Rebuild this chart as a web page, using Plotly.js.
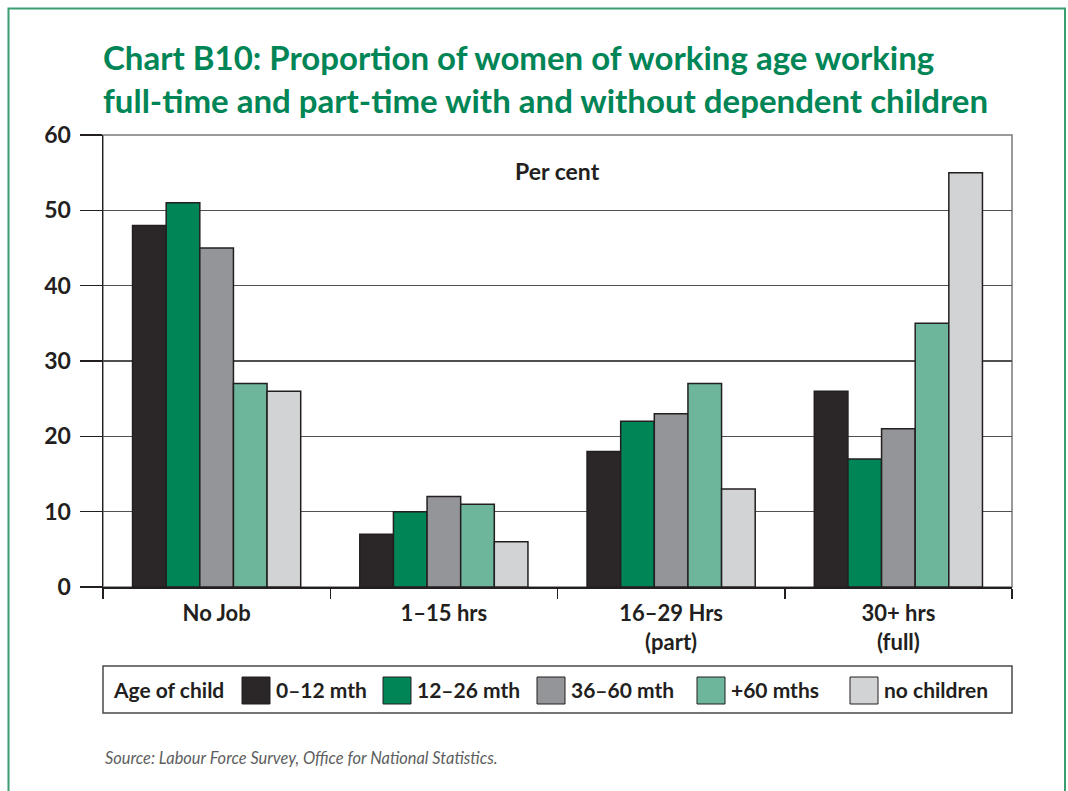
<!DOCTYPE html>
<html><head><meta charset="utf-8">
<script src="https://cdn.plot.ly/plotly-3.0.1.min.js"></script>
<style>body{margin:0;background:#fff}#chart{width:1068px;height:791px}</style>
</head><body><div id="chart"></div>
<script>
// ---- data ----
const categories = ["No Job", "1–15 hrs", "16–29 Hrs<br>(part)", "30+ hrs<br>(full)"];
const seriesNames = ["0–12 mth", "12–26 mth", "36–60 mth", "+60 mths", "no children"];
const months0to12 = [48, 7, 18, 26];
const months12to26 = [51, 10, 22, 17];
const months36to60 = [45, 12, 23, 21];
const months60plus = [27, 11, 27, 35];
const noChildren = [26, 6, 13, 55];
const yTickValues = [0, 10, 20, 30, 40, 50, 60];
const legendHeading = "Age of child";
const unitLabel = "Per cent";
const sourceText = "Source: Labour Force Survey, Office for National Statistics.";
const titleText = "Chart B10: Proportion of women of working age working<br>full-time and part-time with and without dependent children";

// ---- styles ----
const seriesColors = ["#2b2728", "#008556", "#939598", "#6db69b", "#d1d3d4"];
const ink = "#231f20";
const FONT = "Lato, 'Open Sans', sans-serif";

const W = 1068, H = 791;
const L = 103, R = 1012, T = 135, B = 587;
const px = x => (x - L) / (R - L);
const py = y => (B - y) / (B - T);

const seriesValues = [months0to12, months12to26, months36to60, months60plus, noChildren];
const traces = seriesValues.map((vals, i) => ({
  type: "bar",
  name: seriesNames[i],
  x: categories,
  y: vals,
  marker: {color: seriesColors[i], line: {color: ink, width: 1.5}},
  showlegend: false,
  hoverinfo: "y"
}));

// custom legend
const swatchLeft = [242, 383, 537, 697, 850];
const swatchW = 28;
const legTop = 666, legBot = 713, legMid = (legTop + legBot) / 2;
const shapes = [
  // green frame
  {type: "rect", xref: "paper", yref: "paper", x0: px(8.5), x1: px(1065), y0: py(1000), y1: py(8.5),
   line: {color: "#3a9e70", width: 2}, fillcolor: "rgba(0,0,0,0)", layer: "below"},
  // plot border (top/right)
  {type: "rect", xref: "paper", yref: "paper", x0: 0, x1: 1, y0: 0, y1: 1,
   line: {color: "#7a7a7a", width: 1.5}, fillcolor: "rgba(0,0,0,0)", layer: "below"},
  // legend box
  {type: "rect", xref: "paper", yref: "paper", x0: 0, x1: 1, y0: py(legBot), y1: py(legTop),
   line: {color: "#4a4a4a", width: 1.5}, fillcolor: "rgba(0,0,0,0)"}
];
const annotations = [
  {text: "<b>" + unitLabel + "</b>", xref: "paper", yref: "paper", x: 0.5, y: py(171), showarrow: false,
   xanchor: "center", yanchor: "middle", font: {family: FONT, size: 23, color: ink}},
  {text: "<b>" + legendHeading + "</b>", xref: "paper", yref: "paper", x: px(111), y: py(legMid), showarrow: false,
   xanchor: "left", yanchor: "middle", font: {family: FONT, size: 21, color: ink}},
  {text: "<i>" + sourceText + "</i>", xref: "paper", yref: "paper", x: 0, y: py(757), showarrow: false,
   xanchor: "left", yanchor: "middle", font: {family: FONT, size: 16.4, color: "#5d5e60"}}
];
seriesNames.forEach((name, i) => {
  shapes.push({type: "rect", xref: "paper", yref: "paper",
    x0: px(swatchLeft[i]), x1: px(swatchLeft[i] + swatchW), y0: py(704), y1: py(677),
    fillcolor: seriesColors[i], line: {color: ink, width: 1}});
  annotations.push({text: "<b>" + name + "</b>", xref: "paper", yref: "paper",
    x: px(swatchLeft[i] + swatchW + 4), y: py(legMid), showarrow: false, xanchor: "left", yanchor: "middle",
    font: {family: FONT, size: 21, color: ink}});
});

const layout = {
  width: W, height: H,
  margin: {l: L, r: W - R, t: T, b: H - B, pad: 0},
  paper_bgcolor: "#fff", plot_bgcolor: "#fff",
  barmode: "group", bargap: 0.26, bargroupgap: 0,
  title: {text: titleText, xref: "container", yref: "container", x: L / W, xanchor: "left",
    y: 1 - 70 / H, yanchor: "top",
    font: {family: FONT, size: 33, color: "#008556", weight: 700}},
  xaxis: {type: "category", range: [-0.5, 3.5], tickson: "boundaries", ticks: "outside", ticklen: 10,
    tickwidth: 1.5, tickcolor: ink, showline: true, linecolor: ink, linewidth: 1.5, showgrid: false,
    ticklabelstandoff: 6,
    tickfont: {family: FONT, size: 22, color: ink, weight: 700}, fixedrange: true},
  yaxis: {range: [0, 60], tickvals: yTickValues, ticktext: yTickValues.map(String), ticks: "outside", ticklen: 22,
    tickwidth: 1.5, tickcolor: ink, showline: true, linecolor: ink, linewidth: 1.5, showgrid: true,
    gridcolor: "#505050", gridwidth: 1.2, zeroline: false, ticklabelstandoff: 4,
    tickfont: {family: FONT, size: 23, color: ink, weight: 700}, fixedrange: true},
  shapes: shapes,
  annotations: annotations
};

Plotly.newPlot("chart", traces, layout, {displayModeBar: false, staticPlot: true});
</script>
</body></html>
